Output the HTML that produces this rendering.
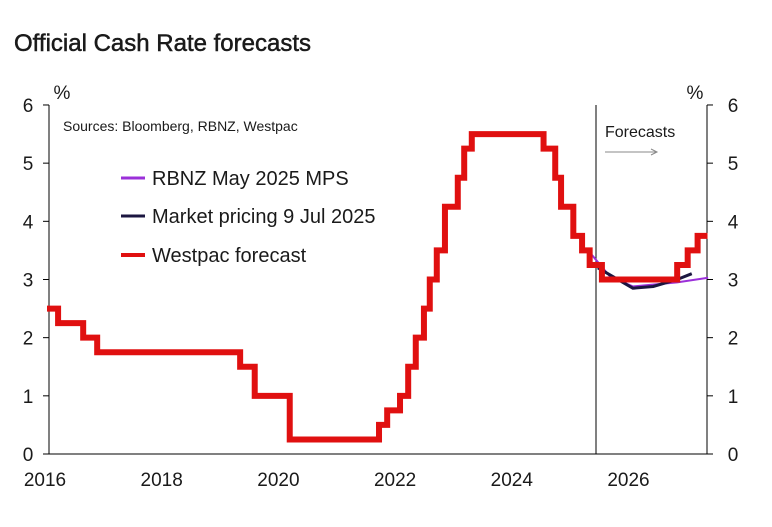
<!DOCTYPE html>
<html><head><meta charset="utf-8"><style>
body{margin:0;background:#fff;width:772px;height:522px;overflow:hidden}
svg text{font-family:"Liberation Sans",Arial,sans-serif;fill:#1a1a1a}
</style></head><body>
<svg id="c" width="772" height="522">
<text x="14" y="51" font-size="24" stroke="#1a1a1a" stroke-width="0.5">Official Cash Rate forecasts</text>
<g id="axes"></g>
<text x="63" y="131" font-size="14">Sources: Bloomberg, RBNZ, Westpac</text>
<line x1="596" y1="105" x2="596" y2="454" stroke="#000" stroke-width="1"/>
<text x="605" y="137" font-size="16">Forecasts</text>
<g stroke="#888" stroke-width="1" fill="none"><line x1="605" y1="152" x2="657" y2="152"/><polyline points="651,149 657,152 651,155"/></g>
<g id="series"></g>
<g>
<line x1="121" y1="178" x2="145" y2="178" stroke="#9b30d9" stroke-width="3"/>
<text x="152" y="185" font-size="20">RBNZ May 2025 MPS</text>
<line x1="121" y1="216" x2="145" y2="216" stroke="#1b1640" stroke-width="3"/>
<text x="152" y="223" font-size="20">Market pricing 9 Jul 2025</text>
<line x1="121" y1="255" x2="145" y2="255" stroke="#e01010" stroke-width="4"/>
<text x="152" y="262" font-size="20">Westpac forecast</text>
</g>
</svg>
<script>
const yTicks=[0,1,2,3,4,5,6];
const xTickYears=[2016,2018,2020,2022,2024,2026];
const westpacDates=[2016.0,2016.19,2016.62,2016.86,2019.31,2019.56,2020.16,2021.69,2021.83,2022.05,2022.19,2022.32,2022.46,2022.56,2022.68,2022.82,2023.04,2023.15,2023.28,2024.51,2024.71,2024.81,2025.02,2025.17,2025.3,2025.51,2026.8,2026.98,2027.15,2027.32];
const westpacRates=[2.5,2.25,2.0,1.75,1.5,1.0,0.25,0.5,0.75,1.0,1.5,2.0,2.5,3.0,3.5,4.25,4.75,5.25,5.5,5.25,4.75,4.25,3.75,3.5,3.25,3.0,3.25,3.5,3.75,3.75];
const rbnzDates=[2025.34,2025.65,2026.04,2026.8,2027.33];
const rbnzRates=[3.42,3.05,2.88,2.95,3.03];
const marketDates=[2025.44,2026.04,2026.39,2026.8,2027.05];
const marketRates=[3.2,2.85,2.88,3.0,3.1];
const X=t=>47+(t-2016)*58.35, Y=v=>454-v*58.17;
const NS='http://www.w3.org/2000/svg';
function mk(tag,at,parent){const e=document.createElementNS(NS,tag);for(const k in at)e.setAttribute(k,at[k]);document.getElementById(parent).appendChild(e);return e;}
let e;
e=mk('line',{x1:49,y1:Y(6),x2:49,y2:454,stroke:'#000','stroke-width':1},'axes');


e=mk('line',{x1:707,y1:Y(6),x2:707,y2:454,stroke:'#000','stroke-width':1},'axes');


e=mk('line',{x1:49,y1:454,x2:707,y2:454,stroke:'#000','stroke-width':1},'axes');


yTicks.forEach(v=>{
 e=mk('line',{x1:43,y1:Y(v),x2:49,y2:Y(v),stroke:'#000'},'axes');
 
 
 e=mk('line',{x1:707,y1:Y(v),x2:713,y2:Y(v),stroke:'#000'},'axes');
 
 
 e=mk('text',{x:28,y:Y(v)+7,'font-size':19,'text-anchor':'middle'},'axes');e.textContent=v;
 
 
 e=mk('text',{x:733,y:Y(v)+7,'font-size':19,'text-anchor':'middle'},'axes');e.textContent=v;
 
 
});
xTickYears.forEach(t=>{
 e=mk('text',{x:X(t)-2,y:486,'font-size':19,'text-anchor':'middle'},'axes');e.textContent=t;
 
 
});
e=mk('text',{x:62,y:99,'font-size':19,'text-anchor':'middle'},'axes');e.textContent='%';


e=mk('text',{x:695,y:99,'font-size':19,'text-anchor':'middle'},'axes');e.textContent='%';


let p=[];
westpacDates.forEach((t,i)=>{if(i>0)p.push(X(t)+','+Y(westpacRates[i-1]));p.push(X(t)+','+Y(westpacRates[i]));});
const line=(d,r)=>d.map((t,i)=>X(t)+','+Y(r[i])).join(' ');
e=mk('polyline',{points:line(rbnzDates,rbnzRates),fill:'none',stroke:'#9b30d9','stroke-width':2},'series');


e=mk('polyline',{points:line(marketDates,marketRates),fill:'none',stroke:'#1b1640','stroke-width':3},'series');


e=mk('polyline',{points:p.join(' '),fill:'none',stroke:'#e01010','stroke-width':6,'stroke-linejoin':'miter'},'series');


</script>
</body></html>
